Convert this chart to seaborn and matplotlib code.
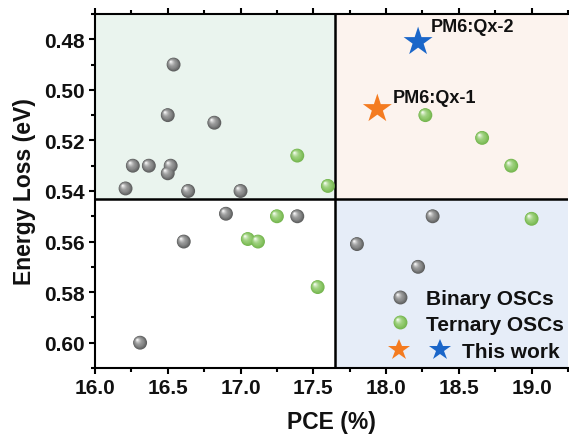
import numpy as np
import pandas as pd
import matplotlib
matplotlib.use("Agg")
import matplotlib.pyplot as plt
import matplotlib.colors as mcolors
import seaborn as sns
from matplotlib.markers import MarkerStyle
from matplotlib.transforms import Affine2D
from matplotlib.lines import Line2D
from matplotlib.legend_handler import HandlerTuple
from matplotlib.ticker import MultipleLocator

# ---- data -------------------------------------------------------------
binary_pce = [16.54, 16.50, 16.82, 16.26, 16.37, 16.52, 16.50, 16.21, 16.64,
              17.00, 16.90, 16.61, 16.31, 17.39, 18.32, 17.80, 18.22]
binary_loss = [0.490, 0.510, 0.513, 0.530, 0.530, 0.530, 0.533, 0.539, 0.540,
               0.540, 0.549, 0.560, 0.600, 0.550, 0.550, 0.561, 0.570]

ternary_pce = [17.39, 17.60, 18.27, 18.66, 18.86, 17.25, 17.05, 17.12, 17.53, 19.00]
ternary_loss = [0.526, 0.538, 0.510, 0.519, 0.530, 0.550, 0.559, 0.560, 0.578, 0.551]

work_names = ["PM6:Qx-1", "PM6:Qx-2"]
work_pce = [17.94, 18.22]
work_loss = [0.5075, 0.481]
work_colors = ["#f47b20", "#1a66c9"]

pce_split = 17.65
loss_split = 0.543

x_ticks = [16.0, 16.5, 17.0, 17.5, 18.0, 18.5, 19.0]
y_ticks = [0.48, 0.50, 0.52, 0.54, 0.56, 0.58, 0.60]

binary_df = pd.DataFrame({"PCE": binary_pce, "Eloss": binary_loss})
ternary_df = pd.DataFrame({"PCE": ternary_pce, "Eloss": ternary_loss})
work_df = pd.DataFrame({"PCE": work_pce, "Eloss": work_loss,
                        "name": work_names, "color": work_colors})

# ---- style ------------------------------------------------------------
sns.set_theme(style="ticks")
plt.rcParams["font.family"] = ["Liberation Sans", "DejaVu Sans"]
plt.rcParams["font.weight"] = "bold"
plt.rcParams["axes.labelweight"] = "bold"
plt.rcParams["text.color"] = "#111111"
plt.rcParams["axes.labelcolor"] = "#111111"
plt.rcParams["xtick.color"] = "black"
plt.rcParams["ytick.color"] = "black"
plt.rcParams["xtick.labelcolor"] = "#111111"
plt.rcParams["ytick.labelcolor"] = "#111111"


def sphere_styles(rim, body, glow, n=10):
    """Stack of shrinking, shifted circles that fake a shaded ball."""
    rim = np.array(mcolors.to_rgb(rim))
    body = np.array(mcolors.to_rgb(body))
    glow = np.array(mcolors.to_rgb(glow))
    out = []
    for i in range(n):
        t = i / (n - 1)
        scale = 1.0 - 0.88 * t
        shift = 0.2 * t
        if t < 0.35:
            w = t / 0.35
            color = rim * (1 - w) + body * w
        else:
            w = ((t - 0.35) / 0.65) ** 1.6
            color = body * (1 - w) + glow * w
        ms = MarkerStyle("o", transform=Affine2D().scale(scale).translate(-shift, shift))
        out.append((ms, tuple(np.clip(color, 0, 1))))
    return out


grey_ball = sphere_styles("#5f6060", "#8b8c8c", "#f4f4f4")
green_ball = sphere_styles("#76b650", "#93cb70", "#f2faec")

fig = plt.figure(figsize=(5.69, 4.39), dpi=100)
ax = fig.add_axes([95 / 569, 1 - 369 / 439, 473 / 569, 354 / 439])

x_lo, x_hi = 16.0, 19.25
y_lo, y_hi = 0.61, 0.47
ax.set_xlim(x_lo, x_hi)
ax.set_ylim(y_lo, y_hi)

# quadrant backgrounds
ax.fill_between([x_lo, pce_split], loss_split, y_hi, color="#eaf4ee", lw=0, zorder=0)
ax.fill_between([pce_split, x_hi], loss_split, y_hi, color="#fcf3ee", lw=0, zorder=0)
ax.fill_between([pce_split, x_hi], y_lo, loss_split, color="#e6edf8", lw=0, zorder=0)
ax.axvline(pce_split, color="black", lw=1.8, zorder=1)
ax.axhline(loss_split, color="black", lw=1.8, zorder=1)

ball_size = 100
for k, (ms, c) in enumerate(grey_ball):
    sns.scatterplot(data=binary_df, x="PCE", y="Eloss", marker=ms, color=c,
                    s=ball_size, linewidth=0, edgecolor="none", ax=ax,
                    legend=False, zorder=3 + k * 0.01)
for k, (ms, c) in enumerate(green_ball):
    sns.scatterplot(data=ternary_df, x="PCE", y="Eloss", marker=ms, color=c,
                    s=ball_size, linewidth=0, edgecolor="none", ax=ax,
                    legend=False, zorder=3 + k * 0.01)

sns.scatterplot(data=work_df, x="PCE", y="Eloss", hue="name",
                palette=dict(zip(work_names, work_colors)), marker="*",
                s=480, linewidth=0, edgecolor="none", ax=ax, legend=False, zorder=5)

label_offsets = {"PM6:Qx-1": (11, 8), "PM6:Qx-2": (9, 11)}
for name, px, ly in zip(work_names, work_pce, work_loss):
    ax.annotate(name, (px, ly), xytext=label_offsets[name], textcoords="offset points",
                ha="left", va="center", fontsize=13, fontweight="bold", color="#111111",
                zorder=6)

# ---- axes -------------------------------------------------------------
ax.set_xticks(x_ticks)
ax.set_yticks(y_ticks)
ax.set_xticklabels([f"{v:.1f}" for v in x_ticks])
ax.set_yticklabels([f"{v:.2f}" for v in y_ticks])
ax.xaxis.set_minor_locator(MultipleLocator(0.25))
ax.yaxis.set_minor_locator(MultipleLocator(0.01))
ax.tick_params(which="major", direction="out", length=4.5, width=1.5, labelsize=15, pad=3)
ax.tick_params(which="minor", direction="out", length=3, width=1.5)
ax.tick_params(axis="x", which="both", top=True, labeltop=False)

for side in ["left", "bottom", "top"]:
    ax.spines[side].set_linewidth(1.5)
    ax.spines[side].set_color("black")
ax.spines["right"].set_visible(False)

ax.set_xlabel("PCE (%)", fontsize=16.5, fontweight="bold", labelpad=9)
ax.set_ylabel("Energy Loss (eV)", fontsize=16.5, fontweight="bold", labelpad=6)

# ---- legend -----------------------------------------------------------
def ball_handle(styles):
    return tuple(Line2D([], [], ls="none", marker=ms, markersize=10, color=c,
                        markeredgewidth=0) for ms, c in styles)


leg1 = ax.legend([ball_handle(grey_ball), ball_handle(green_ball)],
                 ["Binary OSCs", "Ternary OSCs"],
                 handler_map={tuple: HandlerTuple(ndivide=1, pad=0)},
                 loc="center left", bbox_to_anchor=(390 / 569, 1 - 312.5 / 439),
                 bbox_transform=fig.transFigure, frameon=False, borderpad=0,
                 borderaxespad=0, handlelength=1.0, handletextpad=0.73,
                 labelspacing=0.3, prop={"size": 15, "weight": "bold"})
ax.add_artist(leg1)

star_handles = tuple(Line2D([], [], ls="none", marker="*", markersize=16.5, color=c,
                            markeredgewidth=0) for c in work_colors)
ax.legend([star_handles], ["This work"],
          handler_map={tuple: HandlerTuple(ndivide=None, pad=0.46)},
          loc="center left", bbox_to_anchor=(383.3 / 569, 1 - 353 / 439),
          bbox_transform=fig.transFigure, frameon=False, borderpad=0,
          borderaxespad=0, handlelength=3.47, handletextpad=0.3,
          prop={"size": 15, "weight": "bold"})

fig.savefig("out.png", dpi=100)
